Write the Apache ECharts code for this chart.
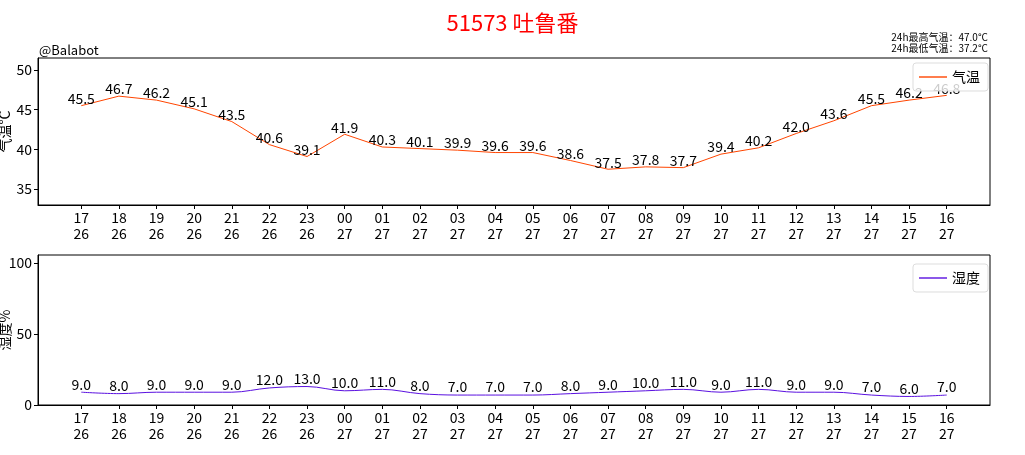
<!DOCTYPE html>
<html><head><meta charset="utf-8">
<script src="https://cdn.jsdelivr.net/npm/echarts@6/dist/echarts.min.js"></script>
<style>html,body{margin:0;padding:0;background:#fff}#c{width:1025px;height:455px}</style>
</head><body><div id="c"></div>
<script>
const hours = ['17','18','19','20','21','22','23','00','01','02','03','04','05','06','07','08','09','10','11','12','13','14','15','16'];
const days  = ['26','26','26','26','26','26','26','27','27','27','27','27','27','27','27','27','27','27','27','27','27','27','27','27'];
const temperature = [45.5,46.7,46.2,45.1,43.5,40.6,39.1,41.9,40.3,40.1,39.9,39.6,39.6,38.6,37.5,37.8,37.7,39.4,40.2,42.0,43.6,45.5,46.2,46.8];
const humidity = [9,8,9,9,9,12,13,10,11,8,7,7,7,8,9,10,11,9,11,9,9,7,6,7];
const tempTicks = [35,40,45,50];
const humTicks = [0,50,100];
const stationTitle = '51573 吐鲁番';
const maxText = '24h最高气温：47.0°C';
const minText = '24h最低气温：37.2°C';

const FONT = '"Noto Sans CJK SC", sans-serif';
const idx = hours.map((h,i)=>i);
const xLabel = v => { const i = Math.round(v); return hours[i] + '\n' + days[i]; };

function xAxisCfg(gi){
  return {
    type:'value', gridIndex:gi, min:-1.15, max:24.15,
    axisLine:{show:true,onZero:false,lineStyle:{color:'#000',width:1}},
    axisTick:{show:true,inside:false,length:4,customValues:idx,lineStyle:{color:'#000'}},
    axisLabel:{customValues:idx,formatter:xLabel,color:'#000',fontSize:14,lineHeight:16,margin:5,fontFamily:FONT},
    splitLine:{show:false}
  };
}
function yAxisCfg(gi,min,max,ticks,name){
  return {
    type:'value', gridIndex:gi, min:min, max:max,
    name:name, nameLocation:'middle', nameGap:26, nameRotate:90, nameMoveOverlap:false,
    nameTextStyle:{color:'#000',fontSize:14,fontFamily:FONT},
    axisLine:{show:true,onZero:false,lineStyle:{color:'#000',width:1}},
    axisTick:{show:true,length:4,customValues:ticks,lineStyle:{color:'#000'}},
    axisLabel:{customValues:ticks,color:'#000',fontSize:14,margin:6,fontFamily:FONT},
    splitLine:{show:false}
  };
}
function lineSeries(name,gi,vals,color,smooth,dist){
  return {name:name,type:'line',xAxisIndex:gi,yAxisIndex:gi,data:vals.map((v,i)=>[i,v]),
    symbol:'circle',symbolSize:0.01,showSymbol:true,itemStyle:{color:color},color:color,
    smooth:smooth,lineStyle:{width:1,color:color},z:2,
    labelLayout:{hideOverlap:false},
    label:{show:true,position:'top',distance:dist,formatter:p=>p.value[1].toFixed(1),color:'#000',fontSize:14,fontFamily:FONT}};
}

const chart = echarts.init(document.getElementById('c'),null,{renderer:'canvas'});
chart.setOption({
  animation:false,
  backgroundColor:'#fff',
  textStyle:{fontFamily:FONT},
  title:[
    {text:stationTitle,left:'center',top:7,textStyle:{color:'#ff0000',fontSize:22,fontWeight:'normal',fontFamily:FONT}},
    {text:'@Balabot',left:34,top:39,textStyle:{color:'#000',fontSize:13,fontWeight:'normal',fontFamily:FONT}}
  ],
  graphic:[
    {type:'text',x:988,y:32,style:{text:maxText+'\n'+minText,align:'right',verticalAlign:'top',fill:'#000',fontSize:10,lineHeight:10.5,fontFamily:FONT}}
  ],
  grid:[
    {left:38,right:35,top:58,height:147,show:true,borderColor:'#000',borderWidth:1,backgroundColor:'transparent',outerBoundsMode:'none',containLabel:false},
    {left:38,right:35,top:255,height:150,show:true,borderColor:'#000',borderWidth:1,backgroundColor:'transparent',outerBoundsMode:'none',containLabel:false}
  ],
  xAxis:[xAxisCfg(0),xAxisCfg(1)],
  yAxis:[yAxisCfg(0,33,51.5,tempTicks,'气温°C'),yAxisCfg(1,0,105.5,humTicks,'湿度%')],
  legend:[
    {data:['气温'],right:37,top:63,orient:'vertical',icon:'path://M0,0 L28,0 L28,1.4 L0,1.4 Z',itemWidth:28,itemHeight:2,itemGap:8,
     padding:[7,8,7,6],borderColor:'#ddd',borderWidth:1,borderRadius:3,backgroundColor:'rgba(255,255,255,0.8)',z:10,
     textStyle:{fontSize:14,color:'#000',fontFamily:FONT}},
    {data:['湿度'],right:37,top:264,orient:'vertical',icon:'path://M0,0 L28,0 L28,1.4 L0,1.4 Z',itemWidth:28,itemHeight:2,itemGap:8,
     padding:[7,8,7,6],borderColor:'#ddd',borderWidth:1,borderRadius:3,backgroundColor:'rgba(255,255,255,0.8)',z:10,
     textStyle:{fontSize:14,color:'#000',fontFamily:FONT}}
  ],
  series:[
    lineSeries('气温',0,temperature,'#ff4500',false,0),
    lineSeries('湿度',1,humidity,'#5a10e0',0.35,1)
  ]
});
</script></body></html>
